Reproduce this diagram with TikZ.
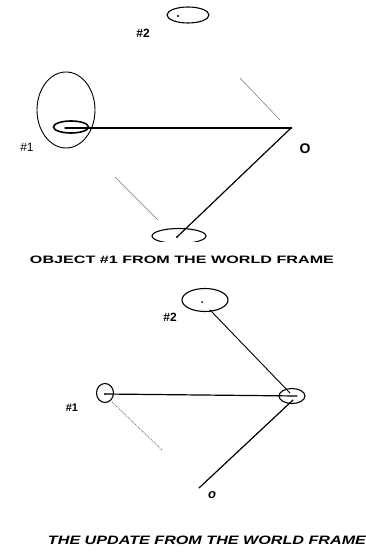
\documentclass[tikz,border=0pt]{standalone}
\usepackage{fontspec}
\setmainfont{Liberation Sans}
\usetikzlibrary{shapes.geometric}
\begin{document}
\begin{tikzpicture}[x=1pt,y=-1pt,
  ring/.style={draw=black,line width=1.1pt,ellipse,inner sep=0pt},
  link/.style={draw=black,line width=1.2pt,line cap=round},
  faint/.style={draw=black!55,line width=0.5pt},
  faintdot/.style={draw=black!60,line width=0.7pt,dash pattern=on 1pt off 1pt},
  lab/.style={font=\bfseries\fontsize{12}{12}\selectfont,inner sep=0pt},
  labthin/.style={font=\fontsize{12}{12}\selectfont,inner sep=0pt},
  captext/.style={inner sep=0pt,font=\bfseries}]
\useasboundingbox (0,0) rectangle (365,553);
\fill[white] (0,0) rectangle (365,553);
% ---------- top panel ----------
\node[ring,minimum width=42pt,minimum height=16pt] (e2) at (188,15) {};
\coordinate (d2) at (178,16);
\fill (d2) circle (1.1pt);
\node[lab] (l2) at (143,33) {\#2};
\node[ring,line width=0.9pt,minimum width=58pt,minimum height=76pt] (big1) at (66,110) {};
\node[ring,line width=1.6pt,minimum width=35pt,minimum height=12pt] (e1) at (71,127) {};
\coordinate (d1) at (65,128);
\node[labthin] (l1) at (27,147) {\#1};
\coordinate (o) at (291,128);
\fill (o) circle (1.3pt);
\node[lab,font=\bfseries\fontsize{14}{14}\selectfont] (lo) at (305,149) {O};
\draw[link] (d1) -- (o);
\coordinate (g1a) at (240,78);
\coordinate (g1b) at (280,120);
\draw[faint] (g1a) -- (g1b);
\coordinate (g2a) at (115,177);
\coordinate (g2b) at (158,220);
\draw[faint] (g2a) -- (g2b);
\coordinate (d3) at (177,237);
\fill (d3) circle (1.2pt);
\draw[link] (o) -- (d3);
\begin{scope}
\clip (140,220) rectangle (220,241.5);
\node[ring,minimum width=54pt,minimum height=15pt] (e3) at (179,236) {};
\end{scope}
\node[captext] (c1) at (182,259.5) {\resizebox{304pt}{7.5pt}{OBJECT \#1 FROM THE WORLD FRAME}};
% ---------- bottom panel ----------
\node[ring,minimum width=46pt,minimum height=23pt] (f2) at (205,300) {};
\coordinate (p2) at (202,302);
\fill (p2) circle (1pt);
\node[lab] (m2) at (170,317) {\#2};
\node[ring,minimum width=17pt,minimum height=19pt] (f1) at (105,393) {};
\coordinate (p1) at (105,394);
\fill (p1) circle (1pt);
\node[lab,font=\bfseries\fontsize{11}{11}\selectfont] (m1) at (72,408) {\#1};
\node[ring,minimum width=26pt,minimum height=15pt] (fo) at (292,396) {};
\coordinate (po) at (297,396);
\coordinate (q2) at (210,310);
\coordinate (q2b) at (290,393);
\draw[link,line width=0.9pt] (q2) -- (q2b);
\draw[link] (p1) -- (po);
\coordinate (qa) at (293,400);
\coordinate (qb) at (199,488);
\draw[link] (qa) -- (qb);
\node[lab,font=\bfseries\itshape\fontsize{13}{13}\selectfont] (mo) at (212,495) {o};
\coordinate (h1) at (112,402);
\coordinate (h2) at (162,450);
\draw[faintdot] (h1) -- (h2);
\node[captext] (c2) at (207,540.5) {\resizebox{318pt}{8.5pt}{\itshape THE UPDATE FROM THE WORLD FRAME}};
\end{tikzpicture}
\end{document}
